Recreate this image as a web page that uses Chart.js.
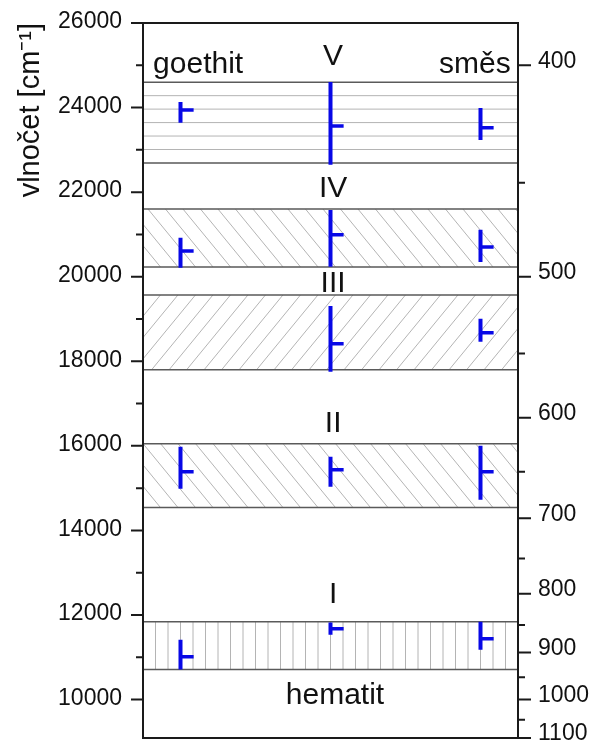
<!DOCTYPE html>
<html>
<head>
<meta charset="utf-8">
<script src="https://cdn.jsdelivr.net/npm/chart.js@4"></script>
<style>
html, body { margin: 0; padding: 0; background: #fff; }
#wrap { width: 593px; height: 742px; }
</style>
</head>
<body>
<div id="wrap"><canvas id="chart" width="593" height="742"></canvas></div>
<script>
// absorption bands (cm-1), bottom to top
const bandNames = ['I', 'II', 'III', 'IV', 'V'];
const bandLow = [10710, 14540, 17800, 20230, 22690];
const bandHigh = [11840, 16050, 19570, 21600, 24600];
const bandHatch = ['vertical', 'back', 'forward', 'back', 'horizontal'];

// samples, one column each
const columns = ['goethit', 'hematit', 'směs'];
const columnX = [1, 5, 9];

const goethitMin = [10710, 14985, null, 20210, 23640];
const goethitMax = [11415, 15980, null, 20920, 24130];
const goethitPeak = [11015, 15390, null, 20610, 23945];

const hematitMin = [11535, 15035, 17750, 20235, 22645];
const hematitMax = [11820, 15740, 19310, 21580, 24605];
const hematitPeak = [11675, 15435, 18415, 20990, 23565];

const smesMin = [11180, 14725, 18460, 20350, 23235];
const smesMax = [11840, 16000, 19005, 21110, 23990];
const smesPeak = [11440, 15390, 18675, 20705, 23520];

// axes
const leftTicks = [10000, 12000, 14000, 16000, 18000, 20000, 22000, 24000, 26000];
const leftMinorTicks = [11000, 13000, 15000, 17000, 19000, 21000, 23000, 25000];
const nmTicks = [400, 500, 600, 700, 800, 900, 1000, 1100];
const nmMinorTicks = [450, 550, 650, 750, 850, 950, 1050];

// text in the plot
const labelTexts = ['goethit', 'směs', 'V', 'IV', 'III', 'II', 'I', 'hematit'];
const labelX = [1.47, 8.85, 5.07, 5.07, 5.07, 5.07, 5.07, 5.12];
const labelY = [24818, 24818, 25007, 21887, 19642, 16333, 12292, 9905];

const FONT = "'Liberation Sans', Arial, sans-serif";
const BLUE = '#0808e6';
const TICK_LEN = 0.35;

const sets = [
    [goethitMin, goethitMax, goethitPeak],
    [hematitMin, hematitMax, hematitPeak],
    [smesMin, smesMax, smesPeak]
];

const rangePts = [];
const peakPts = [];
sets.forEach(([lo, hi, peak], c) => {
    const x = columnX[c];
    lo.forEach((v, i) => {
        if (v == null) return;
        rangePts.push({ x, y: v }, { x, y: hi[i] }, { x, y: null });
        peakPts.push({ x, y: peak[i] }, { x: x + TICK_LEN, y: peak[i] }, { x, y: null });
    });
});

const bandsPlugin = {
    id: 'bands',
    beforeDatasetsDraw(chart) {
        const { ctx, chartArea: a, scales: { y } } = chart;
        bandNames.forEach((name, i) => {
            const top = y.getPixelForValue(bandHigh[i]);
            const bot = y.getPixelForValue(bandLow[i]);
            const h = bot - top;
            ctx.save();
            ctx.beginPath();
            ctx.rect(a.left, top, a.right - a.left, h);
            ctx.clip();
            ctx.strokeStyle = '#b4b4b4';
            ctx.lineWidth = 1;
            ctx.beginPath();
            const kind = bandHatch[i];
            if (kind === 'horizontal') {
                for (let k = 1; k <= 5; k++) {
                    const yy = top + h * k / 6;
                    ctx.moveTo(a.left, yy);
                    ctx.lineTo(a.right, yy);
                }
            } else if (kind === 'vertical') {
                for (let xx = a.left + 12.5; xx < a.right; xx += 12.5) {
                    ctx.moveTo(xx, top);
                    ctx.lineTo(xx, bot);
                }
            } else {
                const k = 0.82, step = 17.5;
                for (let xx = a.left - h * k - step; xx < a.right + step; xx += step) {
                    if (kind === 'back') {
                        ctx.moveTo(xx, top);
                        ctx.lineTo(xx + h * k, bot);
                    } else {
                        ctx.moveTo(xx, bot);
                        ctx.lineTo(xx + h * k, top);
                    }
                }
            }
            ctx.stroke();
            ctx.restore();

            ctx.save();
            ctx.strokeStyle = '#5a5a5a';
            ctx.lineWidth = 1.5;
            ctx.beginPath();
            ctx.moveTo(a.left, top);
            ctx.lineTo(a.right, top);
            ctx.moveTo(a.left, bot);
            ctx.lineTo(a.right, bot);
            ctx.stroke();
            ctx.restore();
        });
    },
    afterDraw(chart) {
        const { ctx, chartArea: a, scales: { x, y, y2 } } = chart;
        ctx.save();
        ctx.strokeStyle = '#1a1a1a';
        ctx.lineWidth = 2;
        ctx.strokeRect(a.left, a.top, a.right - a.left, a.bottom - a.top);
        ctx.beginPath();
        const mark = (py, px, len) => {
            ctx.moveTo(px, py);
            ctx.lineTo(px + len, py);
        };
        leftTicks.forEach(v => mark(y.getPixelForValue(v), a.left, -12));
        leftMinorTicks.forEach(v => mark(y.getPixelForValue(v), a.left, -7));
        nmTicks.forEach(n => mark(y2.getPixelForValue(1e7 / n), a.right, 13));
        nmMinorTicks.forEach(n => mark(y2.getPixelForValue(1e7 / n), a.right, 7));
        ctx.stroke();

        ctx.fillStyle = '#111';
        ctx.font = '30px ' + FONT;
        ctx.textAlign = 'center';
        ctx.textBaseline = 'alphabetic';
        labelTexts.forEach((t, i) => {
            ctx.fillText(t, x.getPixelForValue(labelX[i]), y.getPixelForValue(labelY[i]));
        });
        ctx.restore();
    }
};

new Chart(document.getElementById('chart'), {
    type: 'scatter',
    data: {
        datasets: [
            {
                label: 'rozsah',
                data: rangePts,
                showLine: true,
                spanGaps: false,
                borderColor: BLUE,
                borderWidth: 4,
                borderCapStyle: 'butt',
                pointRadius: 0
            },
            {
                label: 'maximum',
                data: peakPts,
                showLine: true,
                spanGaps: false,
                borderColor: BLUE,
                borderWidth: 3.5,
                borderCapStyle: 'butt',
                pointRadius: 0
            }
        ]
    },
    options: {
        responsive: false,
        animation: false,
        layout: { padding: { left: 0, right: 0, top: 23, bottom: 4 } },
        plugins: { legend: { display: false }, tooltip: { enabled: false } },
        scales: {
            x: { type: 'linear', min: 0, max: 10, display: false },
            y: {
                position: 'left',
                min: 1e7 / 1100,
                max: 26000,
                grid: { display: false, drawTicks: false },
                border: { display: false },
                afterBuildTicks: s => {
                    s.ticks = [...leftTicks, ...leftMinorTicks].sort((a, b) => a - b).map(v => ({ value: v }));
                },
                afterFit: s => {
                    s.width = 143;
                    s.paddingTop = 0;
                    s.paddingBottom = 0;
                },
                ticks: {
                    autoSkip: false,
                    padding: 21,
                    labelOffset: -1,
                    color: '#111',
                    font: { family: FONT, size: 23 },
                    callback: v => leftTicks.includes(v) ? String(v) : ''
                },
                title: {
                    display: true,
                    text: 'vlnočet [cm⁻¹]',
                    align: 'end',
                    color: '#111',
                    font: { family: FONT, size: 29 },
                    padding: { top: 14, bottom: 0 }
                }
            },
            y2: {
                position: 'right',
                min: 1e7 / 1100,
                max: 26000,
                grid: { display: false, drawTicks: false },
                border: { display: false },
                afterBuildTicks: s => {
                    s.ticks = [...nmTicks, ...nmMinorTicks].map(n => ({ value: 1e7 / n })).sort((a, b) => a.value - b.value);
                },
                afterFit: s => {
                    s.width = 75;
                    s.paddingTop = 0;
                    s.paddingBottom = 0;
                },
                ticks: {
                    autoSkip: false,
                    padding: 20,
                    labelOffset: -4,
                    color: '#111',
                    font: { family: FONT, size: 23 },
                    callback: v => {
                        const nm = Math.round(1e7 / v);
                        return nmTicks.includes(nm) ? String(nm) : '';
                    }
                }
            }
        }
    },
    plugins: [bandsPlugin]
});
</script>
</body>
</html>
